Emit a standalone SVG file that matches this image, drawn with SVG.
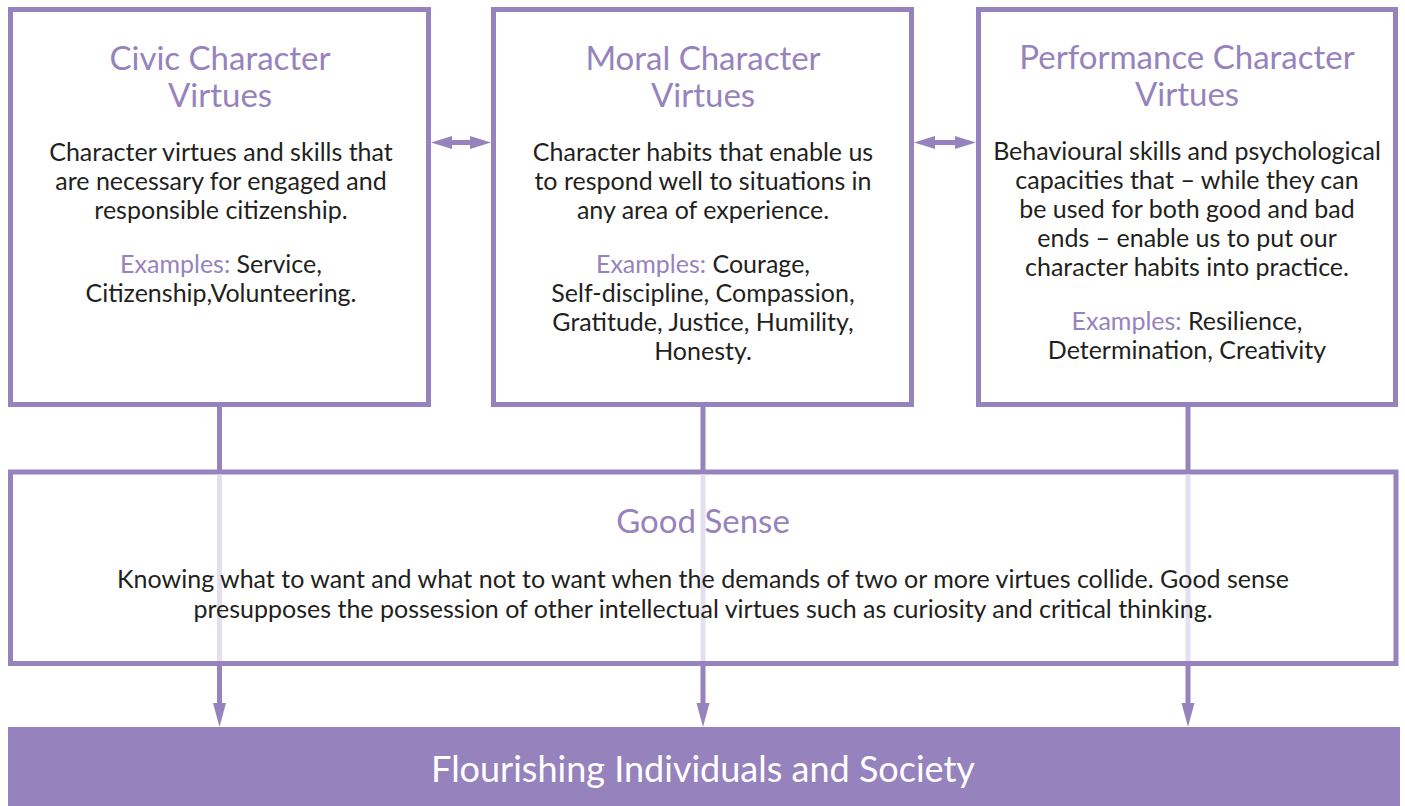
<svg xmlns="http://www.w3.org/2000/svg" width="1405" height="806" viewBox="0 0 1405 806">
<defs>
<style>
.box{fill:#fff;stroke:#9683bd;stroke-width:5}
.title{font-family:Lato,"Liberation Sans",sans-serif;font-size:33px;fill:#9683bd;text-anchor:middle}
.body{font-family:Lato,"Liberation Sans",sans-serif;font-size:25px;fill:#231f20;text-anchor:middle}
.ex{fill:#9683bd}
.line{stroke:#9683bd;stroke-width:5;fill:none}
.faint{stroke:#e3dfef;stroke-width:5;fill:none}
.head{fill:#9683bd}
.banner{font-family:Lato,"Liberation Sans",sans-serif;font-size:36px;fill:#fff;text-anchor:middle}
</style>
</defs>
<rect width="1405" height="806" fill="#fff"/>
<g id="connectors">
<line class="line" x1="219.5" y1="404" x2="219.5" y2="472"/>
<line class="line" x1="703" y1="404" x2="703" y2="472"/>
<line class="line" x1="1188" y1="404" x2="1188" y2="472"/>
<line class="line" x1="219.5" y1="663" x2="219.5" y2="705"/>
<line class="line" x1="703" y1="663" x2="703" y2="705"/>
<line class="line" x1="1188" y1="663" x2="1188" y2="705"/>
<polygon class="head" points="213,703 226,703 219.5,727"/>
<polygon class="head" points="696.5,703 709.5,703 703,727"/>
<polygon class="head" points="1181.5,703 1194.5,703 1188,727"/>
<line class="line" x1="448" y1="142.5" x2="474" y2="142.5"/>
<polygon class="head" points="431,142.5 452,136 452,149"/>
<polygon class="head" points="491,142.5 470,136 470,149"/>
<line class="line" x1="931" y1="142.5" x2="959" y2="142.5"/>
<polygon class="head" points="914,142.5 935,136 935,149"/>
<polygon class="head" points="976,142.5 955,136 955,149"/>
</g>
<g id="good-sense">
<rect class="box" x="10.5" y="472" width="1385.5" height="191.5"/>
<line class="faint" x1="219.5" y1="474.5" x2="219.5" y2="661"/>
<line class="faint" x1="703" y1="474.5" x2="703" y2="661"/>
<line class="faint" x1="1188" y1="474.5" x2="1188" y2="661"/>
<text class="title" x="703" y="533">Good Sense</text>
<text class="body" x="703" y="588">Knowing what to want and what not to want when the demands of two or more virtues collide. Good sense</text>
<text class="body" x="703" y="618">presupposes the possession of other intellectual virtues such as curiosity and critical thinking.</text>
</g>
<g id="civic">
<rect class="box" x="10.5" y="9.5" width="418" height="395"/>
<text class="title" x="220" y="70">Civic Character</text>
<text class="title" x="220" y="107">Virtues</text>
<text class="body" x="221" y="161">Character virtues and skills that</text>
<text class="body" x="221" y="190">are necessary for engaged and</text>
<text class="body" x="221" y="219">responsible citizenship.</text>
<text class="body" x="221" y="273"><tspan class="ex">Examples:</tspan> Service,</text>
<text class="body" x="221" y="302">Citizenship,Volunteering.</text>
</g>
<g id="moral">
<rect class="box" x="493.5" y="9.5" width="418" height="395"/>
<text class="title" x="703" y="70">Moral Character</text>
<text class="title" x="703" y="107">Virtues</text>
<text class="body" x="703" y="161">Character habits that enable us</text>
<text class="body" x="703" y="190">to respond well to situations in</text>
<text class="body" x="703" y="219">any area of experience.</text>
<text class="body" x="703" y="273"><tspan class="ex">Examples:</tspan> Courage,</text>
<text class="body" x="703" y="302">Self-discipline, Compassion,</text>
<text class="body" x="703" y="331">Gratitude, Justice, Humility,</text>
<text class="body" x="703" y="360">Honesty.</text>
</g>
<g id="performance">
<rect class="box" x="978.5" y="9.5" width="417" height="395"/>
<text class="title" x="1187" y="69">Performance Character</text>
<text class="title" x="1187" y="106">Virtues</text>
<text class="body" x="1187" y="160">Behavioural skills and psychological</text>
<text class="body" x="1187" y="189">capacities that – while they can</text>
<text class="body" x="1187" y="218">be used for both good and bad</text>
<text class="body" x="1187" y="247">ends – enable us to put our</text>
<text class="body" x="1187" y="276">character habits into practice.</text>
<text class="body" x="1187" y="330"><tspan class="ex">Examples:</tspan> Resilience,</text>
<text class="body" x="1187" y="359">Determination, Creativity</text>
</g>
<g id="flourishing">
<rect x="8" y="727" width="1392" height="79" fill="#9683bd"/>
<text class="banner" x="703" y="782">Flourishing Individuals and Society</text>
</g>
</svg>
